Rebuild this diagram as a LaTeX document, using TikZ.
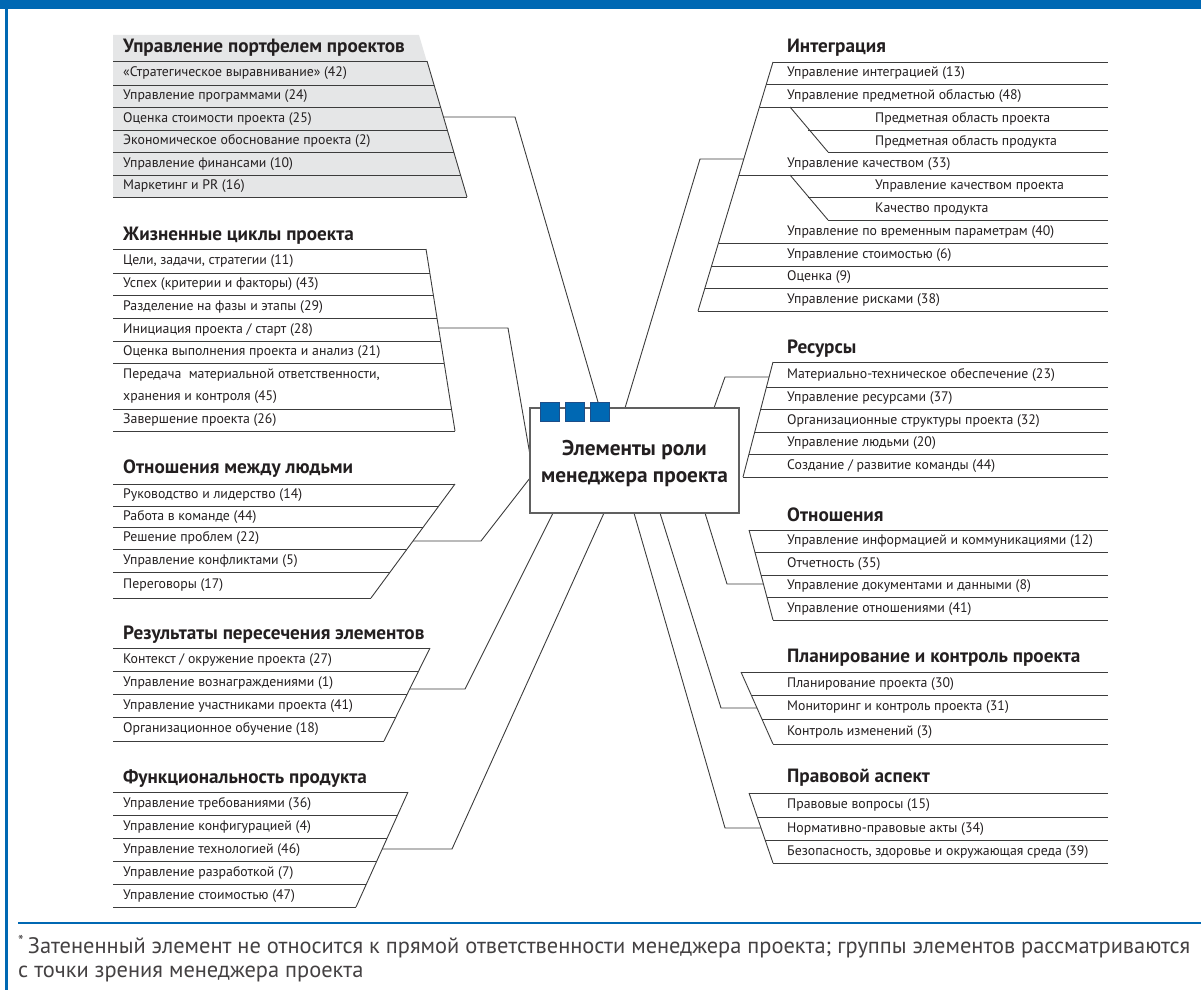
\documentclass[tikz,border=0pt]{standalone}
\usepackage{fontspec}
\setmainfont{PT Sans}
\definecolor{blu}{HTML}{0068B3}
\definecolor{sqedge}{HTML}{1D4E89}
\definecolor{shadegray}{HTML}{E5E6E7}
\definecolor{ln}{HTML}{3C3C3C}
\definecolor{txt}{HTML}{231F20}
\definecolor{boxedge}{HTML}{606060}
\tikzset{
 item/.style={anchor=west, inner sep=0pt, text=txt, font=\fontsize{13.8}{15}\selectfont},
 ttl/.style={anchor=west, inner sep=0pt, text=txt, font=\bfseries\fontsize{19.2}{21}\selectfont},
 rule/.style={draw=ln, line width=0.9pt},
 conn/.style={draw=ln, line width=0.9pt},
 sq/.style={draw=sqedge, fill=blu, line width=0.7pt, minimum width=19pt, minimum height=19pt, inner sep=0pt},
}
\begin{document}
\begin{tikzpicture}[x=1pt,y=-1pt]
\useasboundingbox (0,0) rectangle (1201,990);
% frame
\fill[blu] (0,0) rectangle (1201,9);
\fill[blu] (4.5,0) rectangle (7.5,990);
\draw[blu, line width=2pt] (18,923) -- (1201,923);

% ---------- Group 1: portfolio (shaded)
\fill[shadegray] (113,35) -- (419,35) -- (467,197) -- (113,197) -- cycle;
\foreach \y/\x in {61/427,85/434,107/440.5,130/447.3,152/453.8,175/460.5,197/467}
  \draw[rule] (113,\y) -- (\x,\y);
\draw[rule] (427,61) -- (467,197);
\node[ttl] (g1t) at (123,48) {Управление портфелем проектов};
\node[item] (g1a) at (123,73.5) {«Стратегическое выравнивание» (42)};
\node[item] (g1b) at (123,96.5) {Управление программами (24)};
\node[item] (g1c) at (123,119) {Оценка стоимости проекта (25)};
\node[item] (g1d) at (123,141.5) {Экономическое обоснование проекта (2)};
\node[item] (g1e) at (123,164) {Управление финансами (10)};
\node[item] (g1f) at (123,186.5) {Маркетинг и PR (16)};

% ---------- Group 2: life cycles
\foreach \y/\x in {249/426,273/429.8,295/433.4,318/437,341/440.7,363/444.2,409/451.6,431/455}
  \draw[rule] (113,\y) -- (\x,\y);
\draw[rule] (426,249) -- (455,431);
\node[ttl] (g2t) at (123,236) {Жизненные циклы проекта};
\node[item] (g2a) at (123,261.5) {Цели, задачи, стратегии (11)};
\node[item] (g2b) at (123,284.5) {Успех (критерии и факторы) (43)};
\node[item] (g2c) at (123,307) {Разделение на фазы и этапы (29)};
\node[item] (g2d) at (123,330) {Инициация проекта / старт (28)};
\node[item] (g2e) at (123,352.5) {Оценка выполнения проекта и анализ (21)};
\node[item] (g2f) at (123,375) {Передача \ материальной ответственности,};
\node[item] (g2g) at (123,397.5) {хранения и контроля (45)};
\node[item] (g2h) at (123,420.5) {Завершение проекта (26)};

% ---------- Group 3: people
\foreach \y/\x in {484/455,506/438.8,527/423.3,549/407.1,572/390.1,598/371}
  \draw[rule] (113,\y) -- (\x,\y);
\draw[rule] (455,484) -- (371,598);
\node[ttl] (g3t) at (123,469) {Отношения между людьми};
\node[item] (g3a) at (123,495.5) {Руководство и лидерство (14)};
\node[item] (g3b) at (123,517) {Работа в команде (44)};
\node[item] (g3c) at (123,538.5) {Решение проблем (22)};
\node[item] (g3d) at (123,561) {Управление конфликтами (5)};
\node[item] (g3e) at (123,585) {Переговоры (17)};

% ---------- Group 4: results
\foreach \y/\x in {648/430,671/418.6,694/407.2,717/395.8,741/384}
  \draw[rule] (113,\y) -- (\x,\y);
\draw[rule] (430,648) -- (384,741);
\node[ttl] (g4t) at (123,635) {Результаты пересечения элементов};
\node[item] (g4a) at (123,660) {Контекст / окружение проекта (27)};
\node[item] (g4b) at (123,683) {Управление вознаграждениями (1)};
\node[item] (g4c) at (123,706) {Управление участниками проекта (41)};
\node[item] (g4d) at (123,729.5) {Организационное обучение (18)};

% ---------- Group 5: product
\foreach \y/\x in {792/408,815/397.6,838/387.2,861/376.8,884/366.4,907/356}
  \draw[rule] (113,\y) -- (\x,\y);
\draw[rule] (408,792) -- (356,907);
\node[ttl] (g5t) at (123,779) {Функциональность продукта};
\node[item] (g5a) at (123,804) {Управление требованиями (36)};
\node[item] (g5b) at (123,827) {Управление конфигурацией (4)};
\node[item] (g5c) at (123,850) {Управление технологией (46)};
\node[item] (g5d) at (123,873) {Управление разработкой (7)};
\node[item] (g5e) at (123,896) {Управление стоимостью (47)};

% ---------- Right: Integration
\foreach \y/\x in {62/773,84/766.4,107/759.5,175/739,243/718.5,266/711.6,288/705,311/698,130/808,152/828,197/808,220/828}
  \draw[rule] (\x,\y) -- (1108,\y);
\draw[rule] (773,62) -- (698,311);
\draw[rule] (790,107) -- (828,152);
\draw[rule] (790,175) -- (828,220);
\node[ttl] (r1t) at (787,48) {Интеграция};
\node[item] (r1a) at (787,73.5) {Управление интеграцией (13)};
\node[item] (r1b) at (787,96) {Управление предметной областью (48)};
\node[item] (r1c) at (875,119) {Предметная область проекта};
\node[item] (r1d) at (875,141.5) {Предметная область продукта};
\node[item] (r1e) at (787,164) {Управление качеством (33)};
\node[item] (r1f) at (875,186.5) {Управление качеством проекта};
\node[item] (r1g) at (875,209) {Качество продукта};
\node[item] (r1h) at (787,232) {Управление по временным параметрам (40)};
\node[item] (r1i) at (787,255) {Управление стоимостью (6)};
\node[item] (r1j) at (787,277.5) {Оценка (9)};
\node[item] (r1k) at (787,300) {Управление рисками (38)};

% ---------- Right: Resources
\foreach \y/\x in {362/773,387/766.5,409/760.7,432/754.7,454/749,477/743}
  \draw[rule] (\x,\y) -- (1108,\y);
\draw[rule] (773,362) -- (743,477);
\node[ttl] (r2t) at (787,349) {Ресурсы};
\node[item] (r2a) at (787,375) {Материально-техническое обеспечение (23)};
\node[item] (r2b) at (787,398.5) {Управление ресурсами (37)};
\node[item] (r2c) at (787,421) {Организационные структуры проекта (32)};
\node[item] (r2d) at (787,443.5) {Управление людьми (20)};
\node[item] (r2e) at (787,466) {Создание / развитие команды (44)};

% ---------- Right: Relations
\foreach \y/\x in {530/749,552/754.9,575/761,597/766.9,620/773}
  \draw[rule] (\x,\y) -- (1108,\y);
\draw[rule] (749,530) -- (773,620);
\node[ttl] (r3t) at (787,515) {Отношения};
\node[item] (r3a) at (787,541.5) {Управление информацией и коммуникациями (12)};
\node[item] (r3b) at (787,564) {Отчетность (35)};
\node[item] (r3c) at (787,586.5) {Управление документами и данными (8)};
\node[item] (r3d) at (787,609) {Управление отношениями (41)};

% ---------- Right: Planning
\foreach \y/\x in {672/741,695/751.2,719/761.9,744/773}
  \draw[rule] (\x,\y) -- (1108,\y);
\draw[rule] (741,672) -- (773,744);
\node[ttl] (r4t) at (787,658) {Планирование и контроль проекта};
\node[item] (r4a) at (787,684) {Планирование проекта (30)};
\node[item] (r4b) at (787,707.5) {Мониторинг и контроль проекта (31)};
\node[item] (r4c) at (787,732) {Контроль изменений (3)};

% ---------- Right: Legal
\foreach \y/\x in {793/749,817/757.2,840/765.1,863/773}
  \draw[rule] (\x,\y) -- (1108,\y);
\draw[rule] (749,793) -- (773,863);
\node[ttl] (r5t) at (787,778) {Правовой аспект};
\node[item] (r5a) at (787,805.5) {Правовые вопросы (15)};
\node[item] (r5b) at (787,829) {Нормативно-правовые акты (34)};
\node[item] (r5c) at (787,852) {Безопасность, здоровье и окружающая среда (39)};

% ---------- connector points
\coordinate (c1s) at (443.5,117); \coordinate (c1k) at (515,117); \coordinate (c1e) at (598,402);
\coordinate (c2s) at (438.6,328); \coordinate (c2k) at (508,328); \coordinate (c2e) at (530,455);
\coordinate (c3s) at (413,541);   \coordinate (c3k) at (481,541); \coordinate (c3e) at (530,478);
\coordinate (c4s) at (409.7,689); \coordinate (c4k) at (465,689); \coordinate (c4e) at (553,513);
\coordinate (c5s) at (382.2,849); \coordinate (c5k) at (452,849); \coordinate (c5e) at (604,513);
\coordinate (d1s) at (743.8,159); \coordinate (d1k) at (700,159); \coordinate (d1e) at (625,408);
\coordinate (d2s) at (769,377);   \coordinate (d2k) at (725,377); \coordinate (d2e) at (714,408);
\coordinate (d3s) at (763.4,584); \coordinate (d3k) at (727,584); \coordinate (d3e) at (705,513);
\coordinate (d4s) at (757,708);   \coordinate (d4k) at (721,708); \coordinate (d4e) at (660,513);
\coordinate (d5s) at (761,828);   \coordinate (d5k) at (725,828); \coordinate (d5e) at (634,513);
\foreach \n in {c1,c2,c3,c4,c5,d1,d2,d3,d4,d5}
  \draw[conn] (\n s) -- (\n k) -- (\n e);

% ---------- central box
\node[draw=boxedge, fill=white, line width=1.2pt, minimum width=209pt, minimum height=105pt, inner sep=0pt] (center) at (634.5,460.5) {};
\node[anchor=center, inner sep=0pt, text=txt, align=center, font=\bfseries\fontsize{21.3}{27}\selectfont] (ctext) at (634.5,464) {Элементы роли\\менеджера проекта};
\node[sq] (sq1) at (549.5,411.5) {};
\node[sq] (sq2) at (574.5,411.5) {};
\node[sq] (sq3) at (599.5,411.5) {};

% ---------- footnote
\node[anchor=west, inner sep=0pt, text=txt!85, font=\fontsize{22.4}{28}\selectfont] (fn1) at (18,946.5) {\textsuperscript{*}\,Затененный элемент не относится к прямой ответственности менеджера проекта; группы элементов рассматриваются};
\node[anchor=west, inner sep=0pt, text=txt!85, font=\fontsize{22.4}{28}\selectfont] (fn2) at (18,973.5) {с точки зрения менеджера проекта};
\end{tikzpicture}
\end{document}
